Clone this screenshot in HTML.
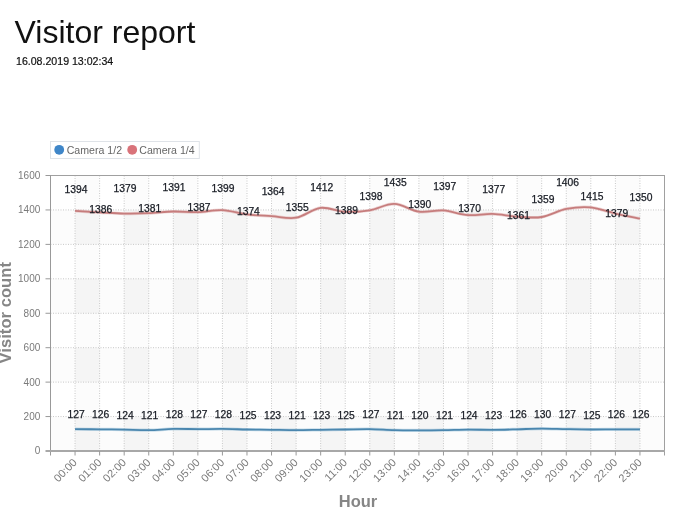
<!DOCTYPE html>
<html><head><meta charset="utf-8"><title>Visitor report</title>
<style>
html,body{margin:0;padding:0;background:#fff;}
body{width:694px;height:510px;overflow:hidden;font-family:"Liberation Sans",Arial,sans-serif;}
svg{display:block;position:absolute;left:0;top:0;}
svg text{font-family:"Liberation Sans",Arial,sans-serif;}
</style></head><body>
<svg width="694" height="510" viewBox="0 0 694 510">
<rect width="694" height="510" fill="#fff"/>
<text x="14.5" y="42.8" font-size="32" fill="#111">Visitor report</text>
<text x="16.0" y="65.2" font-size="10.6" fill="#111" stroke="#111" stroke-width="0.2">16.08.2019 13:02:34</text>

<rect x="50.50" y="416.56" width="614.00" height="34.44" fill="#f8f8f8"/>
<rect x="50.50" y="347.69" width="614.00" height="34.44" fill="#f8f8f8"/>
<rect x="50.50" y="278.81" width="614.00" height="34.44" fill="#f8f8f8"/>
<rect x="50.50" y="209.94" width="614.00" height="34.44" fill="#f8f8f8"/>
<rect x="50.50" y="175.50" width="24.56" height="275.50" fill="#fff" fill-opacity="0.5"/>
<rect x="99.62" y="175.50" width="24.56" height="275.50" fill="#fff" fill-opacity="0.5"/>
<rect x="148.74" y="175.50" width="24.56" height="275.50" fill="#fff" fill-opacity="0.5"/>
<rect x="197.86" y="175.50" width="24.56" height="275.50" fill="#fff" fill-opacity="0.5"/>
<rect x="246.98" y="175.50" width="24.56" height="275.50" fill="#fff" fill-opacity="0.5"/>
<rect x="296.10" y="175.50" width="24.56" height="275.50" fill="#fff" fill-opacity="0.5"/>
<rect x="345.22" y="175.50" width="24.56" height="275.50" fill="#fff" fill-opacity="0.5"/>
<rect x="394.34" y="175.50" width="24.56" height="275.50" fill="#fff" fill-opacity="0.5"/>
<rect x="443.46" y="175.50" width="24.56" height="275.50" fill="#fff" fill-opacity="0.5"/>
<rect x="492.58" y="175.50" width="24.56" height="275.50" fill="#fff" fill-opacity="0.5"/>
<rect x="541.70" y="175.50" width="24.56" height="275.50" fill="#fff" fill-opacity="0.5"/>
<rect x="590.82" y="175.50" width="24.56" height="275.50" fill="#fff" fill-opacity="0.5"/>
<rect x="639.94" y="175.50" width="24.56" height="275.50" fill="#fff" fill-opacity="0.5"/>
<rect x="75.06" y="175.50" width="24.56" height="275.50" fill="#000" fill-opacity="0.012"/>
<rect x="124.18" y="175.50" width="24.56" height="275.50" fill="#000" fill-opacity="0.012"/>
<rect x="173.30" y="175.50" width="24.56" height="275.50" fill="#000" fill-opacity="0.012"/>
<rect x="222.42" y="175.50" width="24.56" height="275.50" fill="#000" fill-opacity="0.012"/>
<rect x="271.54" y="175.50" width="24.56" height="275.50" fill="#000" fill-opacity="0.012"/>
<rect x="320.66" y="175.50" width="24.56" height="275.50" fill="#000" fill-opacity="0.012"/>
<rect x="369.78" y="175.50" width="24.56" height="275.50" fill="#000" fill-opacity="0.012"/>
<rect x="418.90" y="175.50" width="24.56" height="275.50" fill="#000" fill-opacity="0.012"/>
<rect x="468.02" y="175.50" width="24.56" height="275.50" fill="#000" fill-opacity="0.012"/>
<rect x="517.14" y="175.50" width="24.56" height="275.50" fill="#000" fill-opacity="0.012"/>
<rect x="566.26" y="175.50" width="24.56" height="275.50" fill="#000" fill-opacity="0.012"/>
<rect x="615.38" y="175.50" width="24.56" height="275.50" fill="#000" fill-opacity="0.012"/>
<line x1="50.5" y1="416.56" x2="664.5" y2="416.56" stroke="#c8c8c8" stroke-width="1" stroke-dasharray="1,1.5"/>
<line x1="50.5" y1="382.12" x2="664.5" y2="382.12" stroke="#c8c8c8" stroke-width="1" stroke-dasharray="1,1.5"/>
<line x1="50.5" y1="347.69" x2="664.5" y2="347.69" stroke="#c8c8c8" stroke-width="1" stroke-dasharray="1,1.5"/>
<line x1="50.5" y1="313.25" x2="664.5" y2="313.25" stroke="#c8c8c8" stroke-width="1" stroke-dasharray="1,1.5"/>
<line x1="50.5" y1="278.81" x2="664.5" y2="278.81" stroke="#c8c8c8" stroke-width="1" stroke-dasharray="1,1.5"/>
<line x1="50.5" y1="244.38" x2="664.5" y2="244.38" stroke="#c8c8c8" stroke-width="1" stroke-dasharray="1,1.5"/>
<line x1="50.5" y1="209.94" x2="664.5" y2="209.94" stroke="#c8c8c8" stroke-width="1" stroke-dasharray="1,1.5"/>
<line x1="75.06" y1="175.5" x2="75.06" y2="451.0" stroke="#c8c8c8" stroke-width="1" stroke-dasharray="1,1.5"/>
<line x1="99.62" y1="175.5" x2="99.62" y2="451.0" stroke="#c8c8c8" stroke-width="1" stroke-dasharray="1,1.5"/>
<line x1="124.18" y1="175.5" x2="124.18" y2="451.0" stroke="#c8c8c8" stroke-width="1" stroke-dasharray="1,1.5"/>
<line x1="148.74" y1="175.5" x2="148.74" y2="451.0" stroke="#c8c8c8" stroke-width="1" stroke-dasharray="1,1.5"/>
<line x1="173.30" y1="175.5" x2="173.30" y2="451.0" stroke="#c8c8c8" stroke-width="1" stroke-dasharray="1,1.5"/>
<line x1="197.86" y1="175.5" x2="197.86" y2="451.0" stroke="#c8c8c8" stroke-width="1" stroke-dasharray="1,1.5"/>
<line x1="222.42" y1="175.5" x2="222.42" y2="451.0" stroke="#c8c8c8" stroke-width="1" stroke-dasharray="1,1.5"/>
<line x1="246.98" y1="175.5" x2="246.98" y2="451.0" stroke="#c8c8c8" stroke-width="1" stroke-dasharray="1,1.5"/>
<line x1="271.54" y1="175.5" x2="271.54" y2="451.0" stroke="#c8c8c8" stroke-width="1" stroke-dasharray="1,1.5"/>
<line x1="296.10" y1="175.5" x2="296.10" y2="451.0" stroke="#c8c8c8" stroke-width="1" stroke-dasharray="1,1.5"/>
<line x1="320.66" y1="175.5" x2="320.66" y2="451.0" stroke="#c8c8c8" stroke-width="1" stroke-dasharray="1,1.5"/>
<line x1="345.22" y1="175.5" x2="345.22" y2="451.0" stroke="#c8c8c8" stroke-width="1" stroke-dasharray="1,1.5"/>
<line x1="369.78" y1="175.5" x2="369.78" y2="451.0" stroke="#c8c8c8" stroke-width="1" stroke-dasharray="1,1.5"/>
<line x1="394.34" y1="175.5" x2="394.34" y2="451.0" stroke="#c8c8c8" stroke-width="1" stroke-dasharray="1,1.5"/>
<line x1="418.90" y1="175.5" x2="418.90" y2="451.0" stroke="#c8c8c8" stroke-width="1" stroke-dasharray="1,1.5"/>
<line x1="443.46" y1="175.5" x2="443.46" y2="451.0" stroke="#c8c8c8" stroke-width="1" stroke-dasharray="1,1.5"/>
<line x1="468.02" y1="175.5" x2="468.02" y2="451.0" stroke="#c8c8c8" stroke-width="1" stroke-dasharray="1,1.5"/>
<line x1="492.58" y1="175.5" x2="492.58" y2="451.0" stroke="#c8c8c8" stroke-width="1" stroke-dasharray="1,1.5"/>
<line x1="517.14" y1="175.5" x2="517.14" y2="451.0" stroke="#c8c8c8" stroke-width="1" stroke-dasharray="1,1.5"/>
<line x1="541.70" y1="175.5" x2="541.70" y2="451.0" stroke="#c8c8c8" stroke-width="1" stroke-dasharray="1,1.5"/>
<line x1="566.26" y1="175.5" x2="566.26" y2="451.0" stroke="#c8c8c8" stroke-width="1" stroke-dasharray="1,1.5"/>
<line x1="590.82" y1="175.5" x2="590.82" y2="451.0" stroke="#c8c8c8" stroke-width="1" stroke-dasharray="1,1.5"/>
<line x1="615.38" y1="175.5" x2="615.38" y2="451.0" stroke="#c8c8c8" stroke-width="1" stroke-dasharray="1,1.5"/>
<line x1="639.94" y1="175.5" x2="639.94" y2="451.0" stroke="#c8c8c8" stroke-width="1" stroke-dasharray="1,1.5"/>
<line x1="50.5" y1="175.5" x2="665.0" y2="175.5" stroke="#a0a0a0" stroke-width="1"/>
<line x1="664.5" y1="175.5" x2="664.5" y2="455.5" stroke="#a0a0a0" stroke-width="1"/>
<path d="M75.06,210.97 C79.15,211.20 91.43,211.92 99.62,212.35 C107.81,212.78 115.99,213.41 124.18,213.55 C132.37,213.70 140.55,213.55 148.74,213.21 C156.93,212.86 165.11,211.66 173.30,211.49 C181.49,211.31 189.67,212.41 197.86,212.18 C206.05,211.95 214.23,209.74 222.42,210.11 C230.61,210.48 238.79,213.41 246.98,214.41 C255.17,215.42 263.35,215.59 271.54,216.14 C279.73,216.68 287.91,219.06 296.10,217.69 C304.29,216.31 312.47,208.85 320.66,207.87 C328.85,206.90 337.03,211.43 345.22,211.83 C353.41,212.23 361.59,211.60 369.78,210.28 C377.97,208.96 386.15,203.68 394.34,203.91 C402.53,204.14 410.71,210.57 418.90,211.66 C427.09,212.75 435.27,209.88 443.46,210.45 C451.65,211.03 459.83,214.53 468.02,215.10 C476.21,215.68 484.39,213.64 492.58,213.90 C500.77,214.16 508.95,216.14 517.14,216.65 C525.33,217.17 533.51,218.29 541.70,217.00 C549.89,215.71 558.07,210.51 566.26,208.90 C574.45,207.30 582.63,206.58 590.82,207.35 C599.01,208.13 607.19,211.69 615.38,213.55 C623.57,215.42 635.85,217.71 639.94,218.55" fill="none" stroke="#d48a8a" stroke-opacity="0.35" stroke-width="3.2" stroke-linecap="butt"/>
<path d="M75.06,210.97 C79.15,211.20 91.43,211.92 99.62,212.35 C107.81,212.78 115.99,213.41 124.18,213.55 C132.37,213.70 140.55,213.55 148.74,213.21 C156.93,212.86 165.11,211.66 173.30,211.49 C181.49,211.31 189.67,212.41 197.86,212.18 C206.05,211.95 214.23,209.74 222.42,210.11 C230.61,210.48 238.79,213.41 246.98,214.41 C255.17,215.42 263.35,215.59 271.54,216.14 C279.73,216.68 287.91,219.06 296.10,217.69 C304.29,216.31 312.47,208.85 320.66,207.87 C328.85,206.90 337.03,211.43 345.22,211.83 C353.41,212.23 361.59,211.60 369.78,210.28 C377.97,208.96 386.15,203.68 394.34,203.91 C402.53,204.14 410.71,210.57 418.90,211.66 C427.09,212.75 435.27,209.88 443.46,210.45 C451.65,211.03 459.83,214.53 468.02,215.10 C476.21,215.68 484.39,213.64 492.58,213.90 C500.77,214.16 508.95,216.14 517.14,216.65 C525.33,217.17 533.51,218.29 541.70,217.00 C549.89,215.71 558.07,210.51 566.26,208.90 C574.45,207.30 582.63,206.58 590.82,207.35 C599.01,208.13 607.19,211.69 615.38,213.55 C623.57,215.42 635.85,217.71 639.94,218.55" fill="none" stroke="#c67d7d" stroke-width="1.8" stroke-linecap="butt"/>
<path d="M75.06,429.13 C79.15,429.16 91.43,429.22 99.62,429.30 C107.81,429.39 115.99,429.51 124.18,429.65 C132.37,429.79 140.55,430.28 148.74,430.17 C156.93,430.05 165.11,429.13 173.30,428.96 C181.49,428.79 189.67,429.13 197.86,429.13 C206.05,429.13 214.23,428.90 222.42,428.96 C230.61,429.02 238.79,429.33 246.98,429.48 C255.17,429.62 263.35,429.71 271.54,429.82 C279.73,429.94 287.91,430.17 296.10,430.17 C304.29,430.17 312.47,429.94 320.66,429.82 C328.85,429.71 337.03,429.59 345.22,429.48 C353.41,429.36 361.59,429.02 369.78,429.13 C377.97,429.25 386.15,429.96 394.34,430.17 C402.53,430.37 410.71,430.34 418.90,430.34 C427.09,430.34 435.27,430.28 443.46,430.17 C451.65,430.05 459.83,429.71 468.02,429.65 C476.21,429.59 484.39,429.88 492.58,429.82 C500.77,429.76 508.95,429.51 517.14,429.30 C525.33,429.10 533.51,428.64 541.70,428.62 C549.89,428.59 558.07,428.99 566.26,429.13 C574.45,429.28 582.63,429.45 590.82,429.48 C599.01,429.51 607.19,429.33 615.38,429.30 C623.57,429.28 635.85,429.30 639.94,429.30" fill="none" stroke="#6aa6cc" stroke-opacity="0.35" stroke-width="3.2" stroke-linecap="butt"/>
<path d="M75.06,429.13 C79.15,429.16 91.43,429.22 99.62,429.30 C107.81,429.39 115.99,429.51 124.18,429.65 C132.37,429.79 140.55,430.28 148.74,430.17 C156.93,430.05 165.11,429.13 173.30,428.96 C181.49,428.79 189.67,429.13 197.86,429.13 C206.05,429.13 214.23,428.90 222.42,428.96 C230.61,429.02 238.79,429.33 246.98,429.48 C255.17,429.62 263.35,429.71 271.54,429.82 C279.73,429.94 287.91,430.17 296.10,430.17 C304.29,430.17 312.47,429.94 320.66,429.82 C328.85,429.71 337.03,429.59 345.22,429.48 C353.41,429.36 361.59,429.02 369.78,429.13 C377.97,429.25 386.15,429.96 394.34,430.17 C402.53,430.37 410.71,430.34 418.90,430.34 C427.09,430.34 435.27,430.28 443.46,430.17 C451.65,430.05 459.83,429.71 468.02,429.65 C476.21,429.59 484.39,429.88 492.58,429.82 C500.77,429.76 508.95,429.51 517.14,429.30 C525.33,429.10 533.51,428.64 541.70,428.62 C549.89,428.59 558.07,428.99 566.26,429.13 C574.45,429.28 582.63,429.45 590.82,429.48 C599.01,429.51 607.19,429.33 615.38,429.30 C623.57,429.28 635.85,429.30 639.94,429.30" fill="none" stroke="#4a86ae" stroke-width="1.8" stroke-linecap="butt"/>
<line x1="50.5" y1="175.0" x2="50.5" y2="455.5" stroke="#999" stroke-width="1"/>
<line x1="45.5" y1="451.0" x2="665.0" y2="451.0" stroke="#a8a8a8" stroke-width="2"/>
<text x="40.3" y="454.40" font-size="10" fill="#7a7a7a" text-anchor="end">0</text>
<line x1="45.5" y1="416.56" x2="50.5" y2="416.56" stroke="#999" stroke-width="1"/>
<text x="40.3" y="419.96" font-size="10" fill="#7a7a7a" text-anchor="end">200</text>
<line x1="45.5" y1="382.12" x2="50.5" y2="382.12" stroke="#999" stroke-width="1"/>
<text x="40.3" y="385.52" font-size="10" fill="#7a7a7a" text-anchor="end">400</text>
<line x1="45.5" y1="347.69" x2="50.5" y2="347.69" stroke="#999" stroke-width="1"/>
<text x="40.3" y="351.09" font-size="10" fill="#7a7a7a" text-anchor="end">600</text>
<line x1="45.5" y1="313.25" x2="50.5" y2="313.25" stroke="#999" stroke-width="1"/>
<text x="40.3" y="316.65" font-size="10" fill="#7a7a7a" text-anchor="end">800</text>
<line x1="45.5" y1="278.81" x2="50.5" y2="278.81" stroke="#999" stroke-width="1"/>
<text x="40.3" y="282.21" font-size="10" fill="#7a7a7a" text-anchor="end">1000</text>
<line x1="45.5" y1="244.38" x2="50.5" y2="244.38" stroke="#999" stroke-width="1"/>
<text x="40.3" y="247.78" font-size="10" fill="#7a7a7a" text-anchor="end">1200</text>
<line x1="45.5" y1="209.94" x2="50.5" y2="209.94" stroke="#999" stroke-width="1"/>
<text x="40.3" y="213.34" font-size="10" fill="#7a7a7a" text-anchor="end">1400</text>
<line x1="45.5" y1="175.50" x2="50.5" y2="175.50" stroke="#999" stroke-width="1"/>
<text x="40.3" y="178.90" font-size="10" fill="#7a7a7a" text-anchor="end">1600</text>
<line x1="75.06" y1="451.0" x2="75.06" y2="455.5" stroke="#999" stroke-width="1"/>
<line x1="99.62" y1="451.0" x2="99.62" y2="455.5" stroke="#999" stroke-width="1"/>
<line x1="124.18" y1="451.0" x2="124.18" y2="455.5" stroke="#999" stroke-width="1"/>
<line x1="148.74" y1="451.0" x2="148.74" y2="455.5" stroke="#999" stroke-width="1"/>
<line x1="173.30" y1="451.0" x2="173.30" y2="455.5" stroke="#999" stroke-width="1"/>
<line x1="197.86" y1="451.0" x2="197.86" y2="455.5" stroke="#999" stroke-width="1"/>
<line x1="222.42" y1="451.0" x2="222.42" y2="455.5" stroke="#999" stroke-width="1"/>
<line x1="246.98" y1="451.0" x2="246.98" y2="455.5" stroke="#999" stroke-width="1"/>
<line x1="271.54" y1="451.0" x2="271.54" y2="455.5" stroke="#999" stroke-width="1"/>
<line x1="296.10" y1="451.0" x2="296.10" y2="455.5" stroke="#999" stroke-width="1"/>
<line x1="320.66" y1="451.0" x2="320.66" y2="455.5" stroke="#999" stroke-width="1"/>
<line x1="345.22" y1="451.0" x2="345.22" y2="455.5" stroke="#999" stroke-width="1"/>
<line x1="369.78" y1="451.0" x2="369.78" y2="455.5" stroke="#999" stroke-width="1"/>
<line x1="394.34" y1="451.0" x2="394.34" y2="455.5" stroke="#999" stroke-width="1"/>
<line x1="418.90" y1="451.0" x2="418.90" y2="455.5" stroke="#999" stroke-width="1"/>
<line x1="443.46" y1="451.0" x2="443.46" y2="455.5" stroke="#999" stroke-width="1"/>
<line x1="468.02" y1="451.0" x2="468.02" y2="455.5" stroke="#999" stroke-width="1"/>
<line x1="492.58" y1="451.0" x2="492.58" y2="455.5" stroke="#999" stroke-width="1"/>
<line x1="517.14" y1="451.0" x2="517.14" y2="455.5" stroke="#999" stroke-width="1"/>
<line x1="541.70" y1="451.0" x2="541.70" y2="455.5" stroke="#999" stroke-width="1"/>
<line x1="566.26" y1="451.0" x2="566.26" y2="455.5" stroke="#999" stroke-width="1"/>
<line x1="590.82" y1="451.0" x2="590.82" y2="455.5" stroke="#999" stroke-width="1"/>
<line x1="615.38" y1="451.0" x2="615.38" y2="455.5" stroke="#999" stroke-width="1"/>
<line x1="639.94" y1="451.0" x2="639.94" y2="455.5" stroke="#999" stroke-width="1"/>
<text transform="translate(77.66,463.20) rotate(-45)" font-size="11" fill="#7a7a7a" text-anchor="end">00:00</text>
<text transform="translate(102.22,463.20) rotate(-45)" font-size="11" fill="#7a7a7a" text-anchor="end">01:00</text>
<text transform="translate(126.78,463.20) rotate(-45)" font-size="11" fill="#7a7a7a" text-anchor="end">02:00</text>
<text transform="translate(151.34,463.20) rotate(-45)" font-size="11" fill="#7a7a7a" text-anchor="end">03:00</text>
<text transform="translate(175.90,463.20) rotate(-45)" font-size="11" fill="#7a7a7a" text-anchor="end">04:00</text>
<text transform="translate(200.46,463.20) rotate(-45)" font-size="11" fill="#7a7a7a" text-anchor="end">05:00</text>
<text transform="translate(225.02,463.20) rotate(-45)" font-size="11" fill="#7a7a7a" text-anchor="end">06:00</text>
<text transform="translate(249.58,463.20) rotate(-45)" font-size="11" fill="#7a7a7a" text-anchor="end">07:00</text>
<text transform="translate(274.14,463.20) rotate(-45)" font-size="11" fill="#7a7a7a" text-anchor="end">08:00</text>
<text transform="translate(298.70,463.20) rotate(-45)" font-size="11" fill="#7a7a7a" text-anchor="end">09:00</text>
<text transform="translate(323.26,463.20) rotate(-45)" font-size="11" fill="#7a7a7a" text-anchor="end">10:00</text>
<text transform="translate(347.82,463.20) rotate(-45)" font-size="11" fill="#7a7a7a" text-anchor="end">11:00</text>
<text transform="translate(372.38,463.20) rotate(-45)" font-size="11" fill="#7a7a7a" text-anchor="end">12:00</text>
<text transform="translate(396.94,463.20) rotate(-45)" font-size="11" fill="#7a7a7a" text-anchor="end">13:00</text>
<text transform="translate(421.50,463.20) rotate(-45)" font-size="11" fill="#7a7a7a" text-anchor="end">14:00</text>
<text transform="translate(446.06,463.20) rotate(-45)" font-size="11" fill="#7a7a7a" text-anchor="end">15:00</text>
<text transform="translate(470.62,463.20) rotate(-45)" font-size="11" fill="#7a7a7a" text-anchor="end">16:00</text>
<text transform="translate(495.18,463.20) rotate(-45)" font-size="11" fill="#7a7a7a" text-anchor="end">17:00</text>
<text transform="translate(519.74,463.20) rotate(-45)" font-size="11" fill="#7a7a7a" text-anchor="end">18:00</text>
<text transform="translate(544.30,463.20) rotate(-45)" font-size="11" fill="#7a7a7a" text-anchor="end">19:00</text>
<text transform="translate(568.86,463.20) rotate(-45)" font-size="11" fill="#7a7a7a" text-anchor="end">20:00</text>
<text transform="translate(593.42,463.20) rotate(-45)" font-size="11" fill="#7a7a7a" text-anchor="end">21:00</text>
<text transform="translate(617.98,463.20) rotate(-45)" font-size="11" fill="#7a7a7a" text-anchor="end">22:00</text>
<text transform="translate(642.54,463.20) rotate(-45)" font-size="11" fill="#7a7a7a" text-anchor="end">23:00</text>
<text x="76.0" y="193.2" font-size="10.3" fill="#181c24" stroke="#181c24" stroke-width="0.25" text-anchor="middle">1394</text>
<text x="100.7" y="213.3" font-size="10.3" fill="#181c24" stroke="#181c24" stroke-width="0.25" text-anchor="middle">1386</text>
<text x="125.0" y="192.0" font-size="10.3" fill="#181c24" stroke="#181c24" stroke-width="0.25" text-anchor="middle">1379</text>
<text x="149.7" y="212.3" font-size="10.3" fill="#181c24" stroke="#181c24" stroke-width="0.25" text-anchor="middle">1381</text>
<text x="174.0" y="190.9" font-size="10.3" fill="#181c24" stroke="#181c24" stroke-width="0.25" text-anchor="middle">1391</text>
<text x="199.0" y="210.8" font-size="10.3" fill="#181c24" stroke="#181c24" stroke-width="0.25" text-anchor="middle">1387</text>
<text x="223.0" y="192.0" font-size="10.3" fill="#181c24" stroke="#181c24" stroke-width="0.25" text-anchor="middle">1399</text>
<text x="248.4" y="214.5" font-size="10.3" fill="#181c24" stroke="#181c24" stroke-width="0.25" text-anchor="middle">1374</text>
<text x="273.1" y="194.9" font-size="10.3" fill="#181c24" stroke="#181c24" stroke-width="0.25" text-anchor="middle">1364</text>
<text x="297.2" y="211.1" font-size="10.3" fill="#181c24" stroke="#181c24" stroke-width="0.25" text-anchor="middle">1355</text>
<text x="321.8" y="190.9" font-size="10.3" fill="#181c24" stroke="#181c24" stroke-width="0.25" text-anchor="middle">1412</text>
<text x="346.5" y="214.3" font-size="10.3" fill="#181c24" stroke="#181c24" stroke-width="0.25" text-anchor="middle">1389</text>
<text x="371.0" y="199.8" font-size="10.3" fill="#181c24" stroke="#181c24" stroke-width="0.25" text-anchor="middle">1398</text>
<text x="395.3" y="186.0" font-size="10.3" fill="#181c24" stroke="#181c24" stroke-width="0.25" text-anchor="middle">1435</text>
<text x="419.7" y="208.0" font-size="10.3" fill="#181c24" stroke="#181c24" stroke-width="0.25" text-anchor="middle">1390</text>
<text x="444.7" y="189.9" font-size="10.3" fill="#181c24" stroke="#181c24" stroke-width="0.25" text-anchor="middle">1397</text>
<text x="469.6" y="211.6" font-size="10.3" fill="#181c24" stroke="#181c24" stroke-width="0.25" text-anchor="middle">1370</text>
<text x="493.8" y="192.6" font-size="10.3" fill="#181c24" stroke="#181c24" stroke-width="0.25" text-anchor="middle">1377</text>
<text x="518.5" y="218.6" font-size="10.3" fill="#181c24" stroke="#181c24" stroke-width="0.25" text-anchor="middle">1361</text>
<text x="543.0" y="202.6" font-size="10.3" fill="#181c24" stroke="#181c24" stroke-width="0.25" text-anchor="middle">1359</text>
<text x="567.6" y="186.0" font-size="10.3" fill="#181c24" stroke="#181c24" stroke-width="0.25" text-anchor="middle">1406</text>
<text x="592.0" y="199.6" font-size="10.3" fill="#181c24" stroke="#181c24" stroke-width="0.25" text-anchor="middle">1415</text>
<text x="616.7" y="217.2" font-size="10.3" fill="#181c24" stroke="#181c24" stroke-width="0.25" text-anchor="middle">1379</text>
<text x="641.0" y="200.6" font-size="10.3" fill="#181c24" stroke="#181c24" stroke-width="0.25" text-anchor="middle">1350</text>
<text x="76.1" y="417.6" font-size="10.3" fill="#181c24" stroke="#181c24" stroke-width="0.25" text-anchor="middle">127</text>
<text x="100.6" y="417.6" font-size="10.3" fill="#181c24" stroke="#181c24" stroke-width="0.25" text-anchor="middle">126</text>
<text x="125.2" y="419.1" font-size="10.3" fill="#181c24" stroke="#181c24" stroke-width="0.25" text-anchor="middle">124</text>
<text x="149.7" y="419.1" font-size="10.3" fill="#181c24" stroke="#181c24" stroke-width="0.25" text-anchor="middle">121</text>
<text x="174.3" y="417.6" font-size="10.3" fill="#181c24" stroke="#181c24" stroke-width="0.25" text-anchor="middle">128</text>
<text x="198.9" y="417.6" font-size="10.3" fill="#181c24" stroke="#181c24" stroke-width="0.25" text-anchor="middle">127</text>
<text x="223.4" y="417.6" font-size="10.3" fill="#181c24" stroke="#181c24" stroke-width="0.25" text-anchor="middle">128</text>
<text x="248.0" y="419.1" font-size="10.3" fill="#181c24" stroke="#181c24" stroke-width="0.25" text-anchor="middle">125</text>
<text x="272.5" y="419.1" font-size="10.3" fill="#181c24" stroke="#181c24" stroke-width="0.25" text-anchor="middle">123</text>
<text x="297.1" y="419.1" font-size="10.3" fill="#181c24" stroke="#181c24" stroke-width="0.25" text-anchor="middle">121</text>
<text x="321.7" y="419.1" font-size="10.3" fill="#181c24" stroke="#181c24" stroke-width="0.25" text-anchor="middle">123</text>
<text x="346.2" y="419.1" font-size="10.3" fill="#181c24" stroke="#181c24" stroke-width="0.25" text-anchor="middle">125</text>
<text x="370.8" y="417.6" font-size="10.3" fill="#181c24" stroke="#181c24" stroke-width="0.25" text-anchor="middle">127</text>
<text x="395.3" y="419.1" font-size="10.3" fill="#181c24" stroke="#181c24" stroke-width="0.25" text-anchor="middle">121</text>
<text x="419.9" y="419.1" font-size="10.3" fill="#181c24" stroke="#181c24" stroke-width="0.25" text-anchor="middle">120</text>
<text x="444.5" y="419.1" font-size="10.3" fill="#181c24" stroke="#181c24" stroke-width="0.25" text-anchor="middle">121</text>
<text x="469.0" y="419.1" font-size="10.3" fill="#181c24" stroke="#181c24" stroke-width="0.25" text-anchor="middle">124</text>
<text x="493.6" y="419.1" font-size="10.3" fill="#181c24" stroke="#181c24" stroke-width="0.25" text-anchor="middle">123</text>
<text x="518.1" y="417.6" font-size="10.3" fill="#181c24" stroke="#181c24" stroke-width="0.25" text-anchor="middle">126</text>
<text x="542.7" y="417.6" font-size="10.3" fill="#181c24" stroke="#181c24" stroke-width="0.25" text-anchor="middle">130</text>
<text x="567.3" y="417.6" font-size="10.3" fill="#181c24" stroke="#181c24" stroke-width="0.25" text-anchor="middle">127</text>
<text x="591.8" y="419.1" font-size="10.3" fill="#181c24" stroke="#181c24" stroke-width="0.25" text-anchor="middle">125</text>
<text x="616.4" y="417.6" font-size="10.3" fill="#181c24" stroke="#181c24" stroke-width="0.25" text-anchor="middle">126</text>
<text x="640.9" y="417.6" font-size="10.3" fill="#181c24" stroke="#181c24" stroke-width="0.25" text-anchor="middle">126</text>
<rect x="50.5" y="141.5" width="148.8" height="17" fill="#fff" stroke="#dfe3e8" stroke-width="1"/>
<circle cx="59.2" cy="149.8" r="4.9" fill="#3f86c8"/>
<text x="66.7" y="153.5" font-size="10.6" fill="#666">Camera 1/2</text>
<circle cx="132.2" cy="149.8" r="4.9" fill="#d9737a"/>
<text x="139.3" y="153.5" font-size="10.6" fill="#666">Camera 1/4</text>
<text x="358" y="506.6" font-size="16.5" font-weight="bold" fill="#868686" text-anchor="middle">Hour</text>
<text transform="translate(11.4,312.8) rotate(-90)" font-size="16.5" font-weight="bold" fill="#868686" text-anchor="middle" textLength="101.5" lengthAdjust="spacing">Visitor count</text>
</svg></body></html>
